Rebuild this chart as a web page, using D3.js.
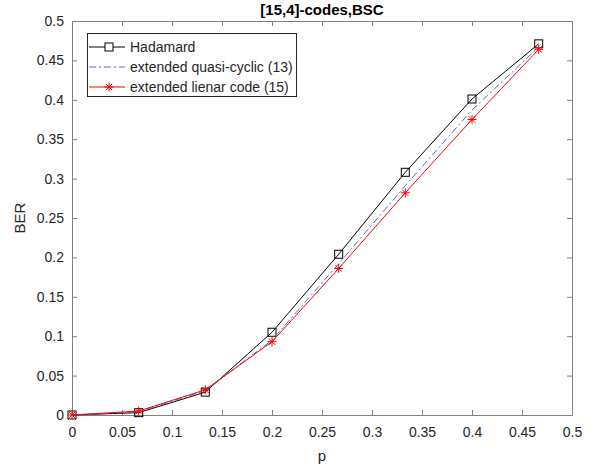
<!DOCTYPE html>
<html>
<head>
<meta charset="utf-8">
<script src="https://cdn.jsdelivr.net/npm/d3@7"></script>
<style>
  body { margin: 0; background: #fff; }
  text { font-family: "Liberation Sans", Arial, Helvetica, sans-serif; }
</style>
</head>
<body>
<div id="chart"></div>
<script>
// data
var pValues = [0, 0.0667, 0.1333, 0.2, 0.2667, 0.3333, 0.4, 0.4667];
var hadamard = [0, 0.003, 0.029, 0.105, 0.204, 0.308, 0.401, 0.471];
var quasiCyclic = [0, 0.004, 0.031, 0.095, 0.192, 0.291, 0.387, 0.467];
var linearCode = [0, 0.005, 0.032, 0.093, 0.186, 0.282, 0.375, 0.464];
var xTicks = [0, 0.05, 0.1, 0.15, 0.2, 0.25, 0.3, 0.35, 0.4, 0.45, 0.5];
var yTicks = [0, 0.05, 0.1, 0.15, 0.2, 0.25, 0.3, 0.35, 0.4, 0.45, 0.5];
var seriesNames = ["Hadamard", "extended quasi-cyclic (13)", "extended lienar code (15)"];

var width = 594, height = 470;
var margin = {left: 72, top: 21, right: 22, bottom: 55};
var axisColor = "#808080", textColor = "#262626";

var svg = d3.select("#chart").append("svg")
    .attr("width", width)
    .attr("height", height);

var x = d3.scaleLinear().domain([0, 0.5]).range([margin.left, width - margin.right]);
var y = d3.scaleLinear().domain([0, 0.5]).range([height - margin.bottom, margin.top]);

// axes, ticks inward on all four sides
var fmt = function(d) { return d3.format("~g")(d); };
var bottomAxis = svg.append("g").attr("transform", "translate(0," + y(0) + ")")
    .call(d3.axisBottom(x).tickValues(xTicks).tickFormat(fmt).tickSizeInner(-5).tickSizeOuter(0).tickPadding(12));
var leftAxis = svg.append("g").attr("transform", "translate(" + x(0) + ",0)")
    .call(d3.axisLeft(y).tickValues(yTicks).tickFormat(fmt).tickSizeInner(-5).tickSizeOuter(0).tickPadding(8));
var topAxis = svg.append("g").attr("transform", "translate(0," + y(0.5) + ")")
    .call(d3.axisTop(x).tickValues(xTicks).tickFormat("").tickSizeInner(-5).tickSizeOuter(0));
var rightAxis = svg.append("g").attr("transform", "translate(" + x(0.5) + ",0)")
    .call(d3.axisRight(y).tickValues(yTicks).tickFormat("").tickSizeInner(-5).tickSizeOuter(0));

[bottomAxis, leftAxis, topAxis, rightAxis].forEach(function(g) {
    g.select(".domain").attr("stroke", axisColor);
    g.selectAll(".tick line").attr("stroke", axisColor);
    g.selectAll("text").attr("fill", textColor).style("font-size", "14px")
        .style("font-family", "'Liberation Sans', Arial, sans-serif");
});

// title and labels
svg.append("text").attr("x", (x(0) + x(0.5)) / 2).attr("y", 15)
    .attr("text-anchor", "middle").style("font-size", "15px").style("font-weight", "bold")
    .attr("fill", "#000").text("[15,4]-codes,BSC");
svg.append("text").attr("x", (x(0) + x(0.5)) / 2).attr("y", 461)
    .attr("text-anchor", "middle").style("font-size", "15px").attr("fill", textColor).text("p");
svg.append("text").attr("transform", "translate(25," + (y(0.25)) + ") rotate(-90)")
    .attr("text-anchor", "middle").style("font-size", "15px").attr("fill", textColor).text("BER");

var line = d3.line()
    .x(function(d, i) { return x(pValues[i]); })
    .y(function(d) { return y(d); });

var plot = svg.append("g");

// Hadamard - black with squares
plot.append("path").datum(hadamard).attr("d", line)
    .attr("fill", "none").attr("stroke", "#000").attr("stroke-width", 1);
plot.selectAll(".sq").data(hadamard).enter().append("rect")
    .attr("x", function(d, i) { return x(pValues[i]) - 4; })
    .attr("y", function(d) { return y(d) - 4; })
    .attr("width", 8).attr("height", 8)
    .attr("fill", "none").attr("stroke", "#000").attr("stroke-width", 1);

// quasi-cyclic - blue dash-dot
plot.append("path").datum(quasiCyclic).attr("d", line)
    .attr("fill", "none").attr("stroke", "#4d6fcc").attr("stroke-width", 1)
    .attr("stroke-dasharray", "7,3,2,3");

// linear code - red with stars
plot.append("path").datum(linearCode).attr("d", line)
    .attr("fill", "none").attr("stroke", "#ff0000").attr("stroke-width", 1);

function star(g, cx, cy) {
    var r = 4.5;
    [0, 45, 90, 135].forEach(function(a) {
        var rad = a * Math.PI / 180;
        g.append("line")
            .attr("x1", cx - r * Math.cos(rad)).attr("y1", cy - r * Math.sin(rad))
            .attr("x2", cx + r * Math.cos(rad)).attr("y2", cy + r * Math.sin(rad))
            .attr("stroke", "#ff0000").attr("stroke-width", 1);
    });
}
linearCode.forEach(function(d, i) { star(plot, x(pValues[i]), y(d)); });

// legend
var legend = svg.append("g");
legend.append("rect").attr("x", 87.5).attr("y", 33.5).attr("width", 209).attr("height", 63)
    .attr("fill", "#fff").attr("stroke", "#262626").attr("stroke-width", 1);
var rowY = [47, 67, 87];
var styles = [
    {color: "#000", dash: null},
    {color: "#4d6fcc", dash: "7,3,2,3"},
    {color: "#ff0000", dash: null}
];
seriesNames.forEach(function(name, i) {
    var l = legend.append("line").attr("x1", 89).attr("x2", 125)
        .attr("y1", rowY[i]).attr("y2", rowY[i])
        .attr("stroke", styles[i].color).attr("stroke-width", 1);
    if (styles[i].dash) l.attr("stroke-dasharray", styles[i].dash);
    if (i === 0) {
        legend.append("rect").attr("x", 105).attr("y", rowY[i] - 4).attr("width", 8).attr("height", 8)
            .attr("fill", "#fff").attr("stroke", "#000");
    }
    if (i === 2) star(legend, 109, rowY[i]);
    legend.append("text").attr("x", 130).attr("y", rowY[i] + 5)
        .style("font-size", "14px").attr("fill", textColor).text(name);
});
</script>
</body>
</html>
